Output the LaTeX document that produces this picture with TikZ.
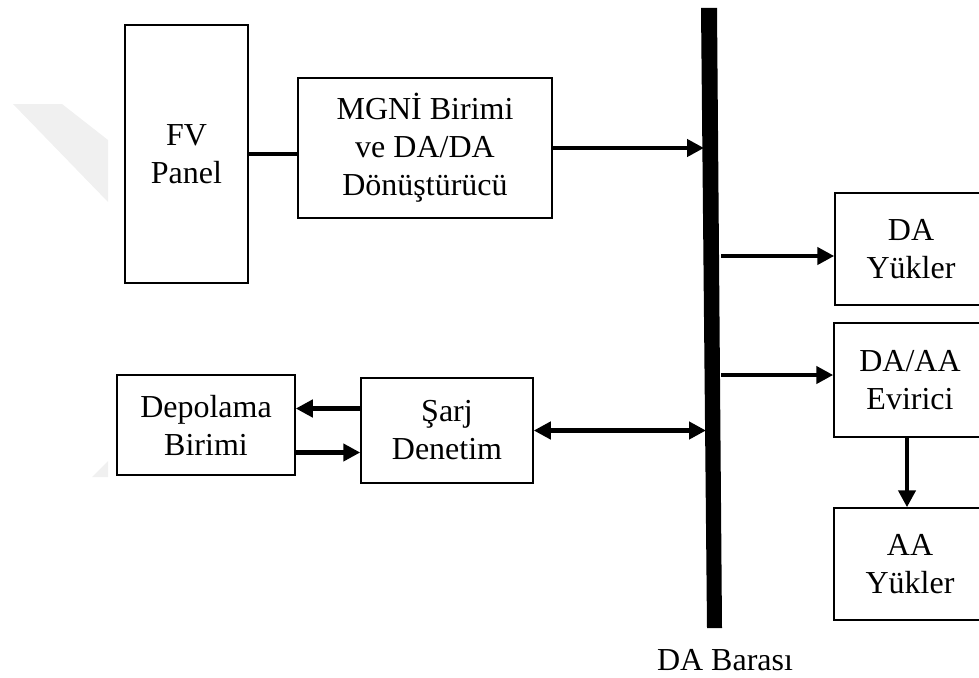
\documentclass[tikz,border=0pt]{standalone}
\usepackage{fontspec}
\setmainfont{Liberation Serif}
\usetikzlibrary{arrows.meta}

\tikzset{
  blok/.style={draw, line width=1.5pt, rectangle, inner sep=0pt, align=center,
    font=\fontsize{32}{38}\selectfont},
  kalin/.style={line width=4.5pt},
  ok/.style={kalin, -{Triangle[length=17pt,width=17pt]}},
  ciftok/.style={kalin, {Triangle[length=17pt,width=17pt]}-{Triangle[length=17pt,width=17pt]}},
  etiket/.style={font=\fontsize{32}{38}\selectfont, inner sep=0pt}
}

\begin{document}
\begin{tikzpicture}[x=1pt, y=-1pt]
\useasboundingbox (0,0) rectangle (979,677);
\clip (0,0) rectangle (979,677);

% faint background mark on the left
\fill[black!6] (13,104) -- (62,104) -- (108,140) -- (108,202) -- cycle;
\fill[black!6] (92,477) -- (108,461) -- (108,477) -- cycle;

% DC bus bar
\fill[black] (701,8) -- (717,8) -- (722,628) -- (707,628) -- cycle;
\coordinate (b1) at (704,148);
\coordinate (b2) at (721,256);
\coordinate (b3) at (721,375);
\coordinate (b4) at (706,430.5);
\node[etiket] (bara) at (725,660) {DA Barası};

% blocks
\node[blok, minimum width=123pt, minimum height=258pt] (fv) at (186.5,154) {FV\\Panel};
\node[blok, minimum width=254pt, minimum height=140pt] (mgni) at (425,148) {MGNİ Birimi\\ve DA/DA\\Dönüştürücü};
\node[blok, minimum width=178pt, minimum height=100pt] (dep) at (206,425) {Depolama\\Birimi};
\node[blok, minimum width=172pt, minimum height=105pt] (sarj) at (447,430.5) {Şarj\\Denetim};
\node[blok, minimum width=152pt, minimum height=112pt] (day) at (911,249) {DA\\Yükler};
\node[blok, minimum width=152pt, minimum height=114pt] (daa) at (910,380) {DA/AA\\Evirici};
\node[blok, minimum width=152pt, minimum height=112pt] (aay) at (910,564) {AA\\Yükler};

% connections
\draw[kalin] (fv.east) -- (fv.east -| mgni.west);
\draw[ok] (mgni.east) -- (mgni.east -| b1);
\draw[ok] (b2) -- (b2 -| day.west);
\draw[ok] (b3) -- (b3 -| daa.west);
\draw[ok] ([xshift=-3pt]daa.south) -- ([xshift=-3pt]aay.north);
\draw[ciftok] (sarj.east) -- (b4);
\path ([yshift=22pt]sarj.west) coordinate (s1);
\path ([yshift=-22pt]sarj.west) coordinate (s2);
\draw[ok] (s1) -- (s1 -| dep.east);
\draw[ok] (s2 -| dep.east) -- (s2);
\end{tikzpicture}
\end{document}
